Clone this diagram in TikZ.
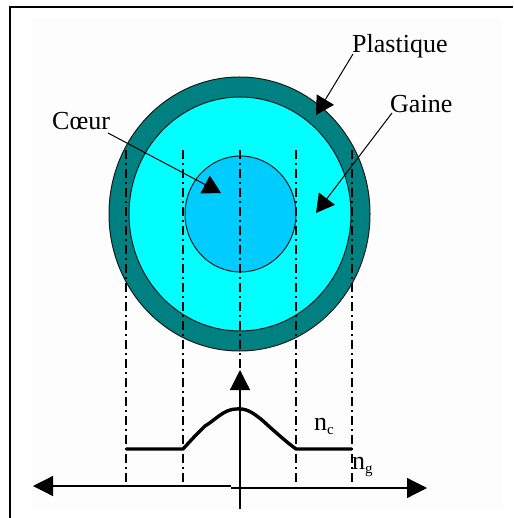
\documentclass[tikz,border=0pt]{standalone}
\usepackage{fontspec}
\setmainfont{Liberation Serif}
\usetikzlibrary{arrows.meta}
\definecolor{plastique}{HTML}{008080}
\definecolor{gaine}{HTML}{00FFFF}
\definecolor{coeur}{HTML}{00CCFF}
\definecolor{fond}{HTML}{FDFDFD}
\newcommand{\sousindice}[1]{\raisebox{-4pt}{\fontsize{15}{15}\selectfont #1}}
\tikzset{
  x=1pt,y=-1pt,
  disc/.style={draw=black!90,line width=1pt},
  guide/.style={draw=black,line width=1.2pt,dash pattern=on 9pt off 4pt on 2pt off 4pt},
  label/.style={inner sep=0pt,anchor=base west,font=\fontsize{26}{26}\selectfont},
  callout/.style={draw=black,line width=1pt,-{Triangle[length=18pt,width=20pt]}},
  axis/.style={draw=black,line width=1.2pt},
  axistip/.style={-{Triangle[length=20pt,width=20pt]}},
  profile/.style={draw=black,line join=round}
}
\begin{document}
\begin{tikzpicture}
\useasboundingbox (0,0) rectangle (513,518);
\fill[white] (0,0) rectangle (513,518);
\fill[fond] (31,17) rectangle (503,509);
\draw[black,line width=2.2pt] (10,518) -- (10,7) -- (513,7);
% fibre
\path[disc,fill=plastique] (239.5,214) ellipse [x radius=130.5,y radius=137];
\path[disc,fill=gaine] (240,214) ellipse [x radius=111,y radius=117];
\path[disc,fill=coeur] (240.5,214) ellipse [x radius=55.5,y radius=58];
% guides
\foreach \gx/\gy in {126/150,183/150,240/150,296/150,352/150}
  \path[guide] (\gx,\gy) -- (\gx,483);
% labels
\node[label] (plast) at (352,53) {Plastique};
\node[label] (gain) at (390,113) {Gaine};
\node[label] (cor) at (52,130) {Cœur};
\node[label] (nc) at (314,430) {n\sousindice{c}};
\node[label] (ng) at (352,469) {n\sousindice{g}};
% callouts
\coordinate (ptip) at (316,115);
\coordinate (gtip) at (316,213);
\coordinate (ctip) at (221,193);
\coordinate (pstart) at (353,54);
\coordinate (gstart) at (392,113);
\coordinate (cstart) at (108,133);
\draw[callout] (pstart) -- (ptip);
\draw[callout] (gstart) -- (gtip);
\draw[callout] (cstart) -- (ctip);
% axes
\coordinate (otop) at (240,370);
\coordinate (obot) at (240,509);
\coordinate (oleft) at (33,486);
\coordinate (omidl) at (231,486);
\coordinate (omidr) at (231,488);
\coordinate (oright) at (427,488);
\draw[axis,axistip] (obot) -- (otop);
\draw[axis,axistip] (omidl) -- (oleft);
\draw[axis,axistip] (omidr) -- (oright);
% profil
\draw[profile,line width=3.4pt] (126,449) -- (183,449)
  -- (195,436) -- (205,426)
  .. controls (214,421) and (224,409) .. (236,409)
  .. controls (246,408) and (252,412) .. (262,420)
  .. controls (272,429) and (285,441) .. (296,449)
  -- (352,449);
\end{tikzpicture}
\end{document}
